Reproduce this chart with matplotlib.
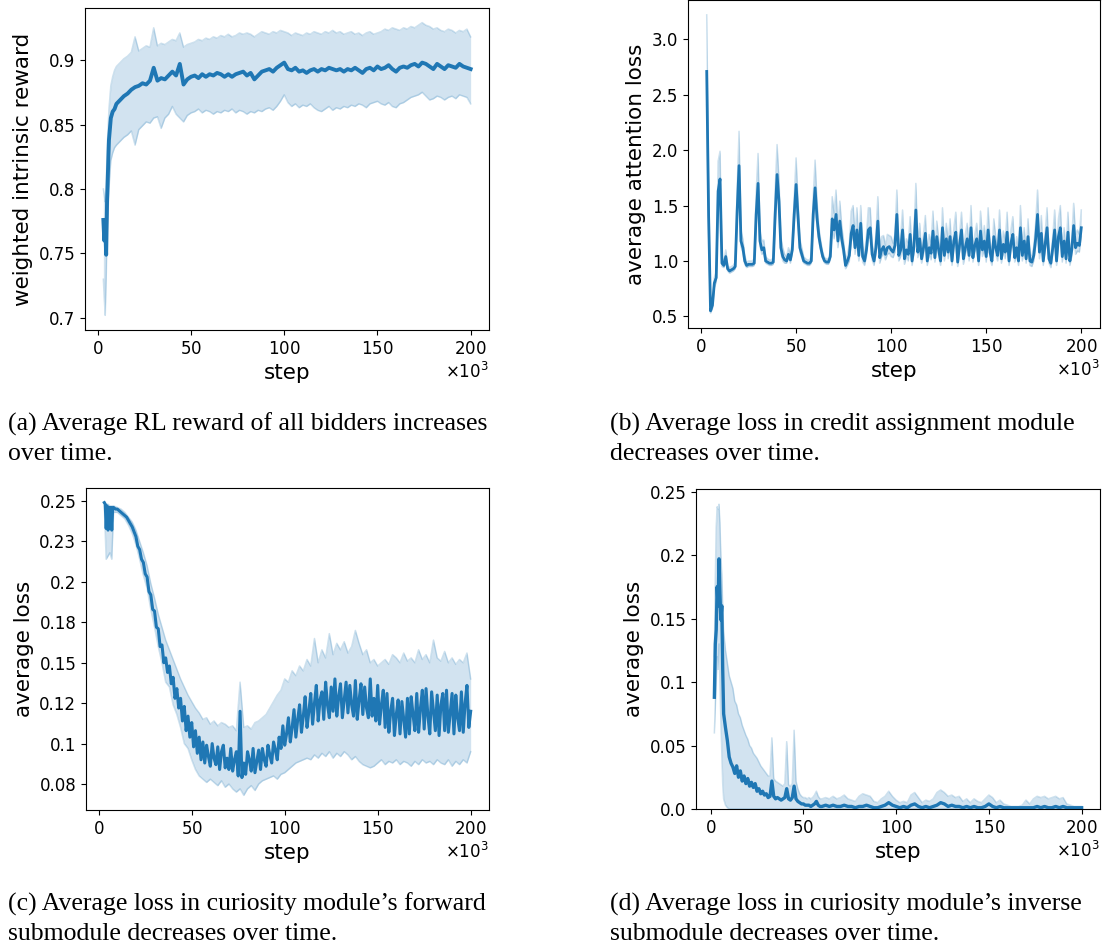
import matplotlib
matplotlib.use("Agg")
import matplotlib.pyplot as plt
import numpy as np

BLUE = "#1f77b4"

# ---------------------------------------------------------------- (a) reward
a_steps = [3, 3.5, 4, 4.5, 5, 6, 7, 8, 9, 10] + list(range(12, 201, 2))
a_mean = [
    .776, .760, .771, .749, .792, .838, .855, .860, .862, .866,
    .869, .872, .874, .877, .879, .880, .882, .881, .884, .894,
    .884, .886, .885, .888, .891, .888, .897, .881, .885, .887,
    .888, .886, .889, .887, .889, .888, .890, .889, .887, .889,
    .887, .889, .890, .891, .888, .890, .885, .888, .891, .892,
    .893, .891, .894, .896, .898, .893, .892, .894, .891, .892,
    .890, .892, .893, .891, .893, .892, .894, .893, .892, .893,
    .891, .893, .892, .894, .892, .890, .893, .894, .892, .895,
    .893, .894, .896, .893, .891, .894, .895, .894, .896, .897,
    .895, .898, .897, .895, .893, .897, .895, .893, .896, .895,
    .894, .897, .895, .894, .893,
]
a_upper = [
    .800, .795, .790, .800, .830, .862, .880, .887, .892, .895,
    .898, .901, .903, .906, .918, .907, .909, .911, .910, .925,
    .911, .913, .912, .914, .916, .915, .921, .910, .912, .913,
    .914, .916, .915, .917, .916, .918, .917, .919, .918, .920,
    .918, .919, .921, .920, .921, .920, .918, .920, .922, .921,
    .920, .922, .921, .923, .922, .921, .919, .921, .920, .919,
    .921, .920, .922, .921, .920, .922, .921, .923, .921, .922,
    .920, .921, .922, .920, .921, .919, .921, .922, .920, .921,
    .922, .924, .923, .925, .924, .923, .925, .924, .926, .925,
    .927, .929, .927, .926, .924, .925, .923, .922, .924, .923,
    .921, .923, .922, .924, .918,
]
a_lower = [
    .730, .715, .702, .730, .765, .800, .822, .828, .832, .834,
    .837, .840, .842, .845, .834, .846, .849, .852, .851, .855,
    .856, .847, .855, .858, .864, .858, .855, .852, .857, .859,
    .860, .862, .859, .861, .860, .858, .860, .859, .861, .860,
    .862, .859, .861, .860, .858, .860, .859, .861, .860, .862,
    .863, .861, .864, .868, .873, .867, .864, .866, .863, .865,
    .864, .866, .863, .861, .860, .862, .864, .861, .863, .862,
    .864, .863, .865, .864, .866, .865, .863, .866, .867, .868,
    .866, .865, .867, .864, .863, .866, .867, .869, .871, .872,
    .873, .875, .872, .869, .870, .872, .871, .869, .871, .872,
    .870, .873, .872, .871, .866,
]

# ------------------------------------------------------- (b) attention loss
b_steps = list(range(3, 201))
b_mean = [
    2.71, 1.40, 0.55, 0.60, 0.80, 0.85, 1.63, 1.74, 0.98, 0.96,
    1.04, 0.93, 0.91, 0.92, 0.93, 0.95, 1.45, 1.86, 1.18, 1.12,
    1.00, 0.96, 0.97, 0.97, 0.97, 0.98, 1.42, 1.70, 1.18, 1.10,
    1.12, 1.00, 0.99, 0.98, 0.98, 0.99, 1.42, 1.78, 1.54, 1.12,
    1.04, 1.01, 1.00, 1.06, 1.01, 1.10, 1.42, 1.69, 1.40, 1.12,
    1.06, 1.00, 0.99, 0.98, 0.98, 1.00, 1.42, 1.66, 1.39, 1.22,
    1.12, 1.04, 1.00, 0.99, 0.99, 1.04, 1.38, 1.28, 1.42, 1.18,
    1.36, 1.20, 1.10, 0.96, 1.00, 1.05, 1.25, 1.32, 1.12, 1.28,
    1.05, 1.34, 1.04, 1.00, 1.10, 1.28, 1.30, 1.06, 1.00, 1.12,
    1.36, 1.03, 1.10, 1.13, 1.06, 1.12, 1.13, 1.10, 1.08, 1.14,
    1.42, 1.05, 1.10, 1.28, 1.02, 1.10, 1.06, 1.24, 1.00, 1.13,
    1.46, 1.08, 1.20, 1.02, 1.12, 1.25, 1.00, 1.12, 1.07, 1.27,
    1.03, 1.22, 1.10, 1.00, 1.30, 1.05, 1.20, 1.08, 1.22, 1.00,
    1.18, 1.26, 0.99, 1.15, 1.28, 1.02, 1.12, 1.20, 1.05, 1.30,
    1.03, 1.14, 1.20, 1.00, 1.27, 1.10, 1.18, 1.04, 1.28, 1.08,
    1.00, 1.22, 1.12, 1.05, 1.28, 1.02, 1.15, 1.08, 1.26, 1.00,
    1.16, 1.24, 1.03, 1.12, 1.00, 1.30, 1.05, 1.18, 1.02, 1.22,
    1.00, 0.99, 1.05, 1.20, 1.42, 1.08, 1.25, 1.00, 1.15, 1.30,
    1.02, 0.98, 1.12, 1.28, 1.00, 1.22, 1.30, 1.04, 1.18, 1.02,
    1.26, 1.00, 1.10, 1.32, 1.12, 1.16, 1.14, 1.30,
]
# distance from the mean to the upper / lower edge of the confidence band
b_band_up = [
    .51, .30, .06, .05, .05, .05, .27, .25, .06, .04,
    .06, .03, .03, .03, .03, .04, .20, .31, .10, .08,
    .05, .03, .03, .03, .03, .04, .20, .27, .10, .08,
    .07, .04, .03, .03, .03, .04, .22, .27, .20, .10,
    .08, .05, .04, .06, .05, .06, .15, .24, .15, .08,
    .06, .04, .03, .03, .03, .04, .16, .25, .15, .08,
    .06, .04, .03, .03, .03, .05, .20, .15, .22, .12,
    .18, .12, .08, .05, .06, .10, .20, .18, .12, .20,
    .10, .16, .10, .06, .12, .20, .18, .10, .06, .12,
    .22, .08, .12, .10, .08, .12, .10, .12, .08, .10,
    .22, .08, .12, .18, .06, .10, .10, .16, .06, .12,
    .24, .08, .14, .06, .12, .16, .06, .12, .10, .18,
    .06, .14, .10, .06, .18, .08, .14, .10, .16, .06,
    .12, .18, .06, .10, .16, .08, .12, .14, .08, .20,
    .06, .10, .14, .06, .18, .10, .14, .08, .20, .10,
    .06, .16, .10, .08, .18, .06, .12, .10, .18, .06,
    .12, .16, .06, .10, .06, .20, .08, .12, .06, .16,
    .06, .06, .08, .14, .22, .10, .16, .06, .10, .18,
    .06, .06, .10, .18, .06, .16, .20, .08, .12, .06,
    .18, .06, .10, .20, .12, .12, .10, .16,
]
b_band_dn = [
    .30, .15, .02, .03, .04, .04, .15, .10, .03, .02,
    .03, .02, .02, .02, .02, .02, .10, .12, .05, .04,
    .03, .02, .02, .02, .02, .02, .10, .10, .05, .04,
    .04, .02, .02, .02, .02, .02, .10, .12, .10, .05,
    .04, .03, .02, .03, .03, .03, .08, .10, .08, .04,
    .03, .02, .02, .02, .02, .02, .08, .10, .08, .04,
    .03, .02, .02, .02, .02, .03, .10, .08, .10, .06,
    .08, .06, .05, .03, .04, .05, .08, .08, .06, .08,
    .05, .08, .05, .04, .06, .08, .08, .05, .04, .06,
    .08, .05, .06, .06, .05, .06, .06, .06, .05, .06,
    .08, .05, .06, .08, .05, .06, .06, .08, .04, .06,
    .08, .05, .07, .04, .06, .08, .04, .06, .06, .08,
    .04, .07, .06, .04, .08, .05, .07, .06, .08, .04,
    .06, .08, .04, .06, .08, .05, .06, .07, .05, .08,
    .04, .06, .07, .04, .08, .06, .07, .05, .08, .06,
    .04, .07, .06, .05, .08, .04, .06, .06, .08, .04,
    .06, .08, .04, .06, .04, .08, .05, .06, .04, .07,
    .04, .04, .05, .07, .08, .06, .08, .04, .06, .08,
    .04, .04, .06, .08, .04, .07, .08, .05, .06, .04,
    .08, .04, .06, .08, .06, .07, .06, .08,
]

# ------------------------------------------------- (c) forward-model loss
c_steps = [3, 3.5, 4, 4.5, 5, 5.5, 6, 6.5, 7, 7.5] + list(range(8, 201))
c_mean = [
    .249, .248, .233, .247, .232, .246, .233, .246, .232, .246,
    .246, .245, .245, .244, .243, .242, .241, .240, .238, .236,
    .234, .231, .228, .222, .220, .214, .212, .205, .203, .194,
    .192, .183, .182, .172, .171, .160, .161, .150, .153, .144,
    .148, .137, .141, .128, .134, .122, .128, .114, .123, .108,
    .117, .104, .113, .098, .108, .094, .104, .090, .101, .088,
    .099, .092, .086, .100, .091, .087, .098, .084, .095, .099,
    .085, .091, .084, .097, .083, .090, .095, .080, .120, .079,
    .088, .081, .095, .090, .083, .097, .082, .089, .096, .084,
    .097, .090, .086, .099, .093, .088, .101, .096, .090, .104,
    .097, .111, .099, .106, .116, .101, .110, .121, .104, .115,
    .124, .107, .117, .129, .110, .120, .131, .112, .125, .136,
    .114, .127, .132, .115, .138, .124, .116, .135, .120, .140,
    .117, .129, .137, .116, .127, .138, .119, .136, .124, .117,
    .139, .115, .127, .137, .118, .135, .122, .116, .140, .117,
    .128, .114, .136, .112, .124, .133, .110, .131, .107, .120,
    .128, .105, .118, .127, .106, .126, .115, .104, .128, .106,
    .129, .118, .108, .131, .107, .122, .133, .109, .134, .117,
    .106, .132, .120, .108, .130, .105, .124, .131, .108, .133,
    .107, .119, .131, .106, .130, .116, .108, .132, .107, .125,
    .136, .110, .120,
]
c_band_steps = [3, 4, 5, 6, 7] + list(range(8, 201, 2))
c_lower = [
    .247, .214, .216, .218, .214,
    .243, .243, .241, .239, .235, .230, .223, .214, .204, .196,
    .183, .172, .160, .150, .138, .135, .124, .118, .110, .100,
    .097, .090, .084, .080, .078, .076, .078, .076, .074, .077,
    .073, .075, .072, .070, .072, .068, .072, .074, .071, .075,
    .077, .078, .079, .080, .078, .081, .082, .084, .086, .088,
    .089, .090, .091, .090, .093, .091, .094, .092, .095, .091,
    .094, .092, .095, .093, .090, .092, .089, .087, .086, .085,
    .086, .088, .090, .087, .089, .088, .090, .087, .089, .088,
    .086, .089, .087, .090, .088, .089, .087, .090, .088, .087,
    .090, .086, .089, .087, .090, .088, .095,
]
c_upper = [
    .249, .248, .248, .247, .247,
    .247, .246, .245, .243, .240, .237, .232, .225, .218, .210,
    .199, .190, .180, .172, .164, .158, .152, .146, .140, .135,
    .130, .126, .122, .119, .115, .116, .112, .114, .111, .113,
    .112, .110, .111, .108, .138, .110, .111, .109, .113, .114,
    .116, .118, .122, .126, .130, .133, .140, .138, .145, .142,
    .148, .145, .152, .148, .165, .150, .158, .153, .168, .155,
    .162, .158, .163, .156, .160, .170, .162, .155, .158, .150,
    .152, .148, .150, .152, .149, .155, .153, .150, .156, .151,
    .153, .150, .158, .152, .155, .150, .164, .153, .151, .157,
    .150, .153, .149, .152, .150, .156, .140,
]

# ------------------------------------------------- (d) inverse-model loss
d_steps = ([2, 2.5, 3, 3.5, 4, 4.5, 5, 5.5, 6, 6.5]
           + list(range(7, 61)) + list(range(62, 201, 2)))
d_mean = [
    .088, .130, .141, .175, .160, .197, .170, .149, .160, .110,
    .075, .064, .054, .041, .036, .033, .028, .034, .025, .030,
    .022, .026, .020, .024, .018, .021, .017, .020, .014, .016,
    .012, .014, .011, .012, .009, .010, .022, .010, .008, .009,
    .008, .007, .008, .009, .016, .008, .007, .009, .018, .008,
    .006, .005, .004, .004, .003, .003, .003, .002, .003, .004,
    .006, .003, .002, .002,
    .003, .002, .003, .002, .002, .003, .002, .002, .001, .002,
    .002, .003, .002, .001, .001, .002, .003, .005, .003, .002,
    .001, .002, .001, .003, .004, .002, .001, .002, .001, .002,
    .003, .005, .004, .002, .003, .002, .002, .001, .002, .001,
    .002, .001, .001, .002, .004, .002, .001, .002, .001, .001,
    .001, .001, .001, .001, .001, .001, .001, .002, .001, .002,
    .001, .001, .002, .001, .002, .001, .001, .001, .001, .001,
]
d_upper = [
    .120, .180, .222, .238, .236, .240, .225, .200, .185, .160,
    .140, .125, .115, .105, .100, .095, .085, .082, .075, .072,
    .066, .062, .058, .055, .050, .048, .044, .042, .040, .037,
    .034, .032, .030, .028, .026, .026, .056, .024, .022, .021,
    .020, .019, .018, .020, .053, .019, .018, .020, .062, .022,
    .016, .012, .010, .009, .009, .008, .009, .008, .009, .011,
    .014, .010, .008, .008,
    .009, .008, .010, .008, .009, .011, .008, .007, .006, .010,
    .012, .011, .010, .006, .005, .008, .010, .014, .010, .007,
    .005, .006, .005, .011, .013, .009, .005, .007, .006, .008,
    .013, .015, .013, .010, .011, .009, .010, .006, .008, .005,
    .008, .006, .005, .008, .011, .009, .005, .007, .004, .003,
    .002, .002, .002, .003, .007, .004, .008, .010, .009, .010,
    .008, .009, .010, .008, .009, .004, .003, .002, .002, .002,
]
d_lower = [
    .060, .080, .100, .120, .110, .130, .100, .070, .045, .020,
    .008, .003, .001, 0, 0, 0, 0, 0, 0, 0,
    0, 0, 0, 0, 0, 0, 0, 0, 0, 0,
    0, 0, 0, 0, 0, 0, 0, 0, 0, 0,
    0, 0, 0, 0, 0, 0, 0, 0, 0, 0,
    0, 0, 0, 0, 0, 0, 0, 0, 0, 0,
    0, 0, 0, 0,
    0, 0, 0, 0, 0, 0, 0, 0, 0, 0,
    0, 0, 0, 0, 0, 0, 0, 0, 0, 0,
    0, 0, 0, 0, 0, 0, 0, 0, 0, 0,
    0, 0, 0, 0, 0, 0, 0, 0, 0, 0,
    0, 0, 0, 0, 0, 0, 0, 0, 0, 0,
    0, 0, 0, 0, 0, 0, 0, 0, 0, 0,
    0, 0, 0, 0, 0, 0, 0, 0, 0, 0,
]

captions = [
    ("(a) Average RL reward of all bidders increases", "over time."),
    ("(b) Average loss in credit assignment module", "decreases over time."),
    ("(c) Average loss in curiosity module\u2019s forward", "submodule decreases over time."),
    ("(d) Average loss in curiosity module\u2019s inverse", "submodule decreases over time."),
]

W, H = 1104, 951
fig = plt.figure(figsize=(W / 100, H / 100), dpi=100)


def px_axes(left, top, right, bottom):
    return fig.add_axes([left / W, 1 - bottom / H, (right - left) / W, (bottom - top) / H])


def draw(ax, steps, mean, band_steps, lower, upper, ylabel, lw=2.0):
    xs = np.asarray(steps, dtype=float) * 1000
    bx = np.asarray(band_steps, dtype=float) * 1000
    ax.fill_between(bx, lower, upper, color=BLUE, alpha=0.2, lw=0)
    ax.plot(bx, lower, color=BLUE, alpha=0.22, lw=1.1)
    ax.plot(bx, upper, color=BLUE, alpha=0.22, lw=1.1)
    ax.plot(xs, mean, color=BLUE, lw=lw)
    ax.set_xlabel("step", fontsize=15.5)
    ax.set_ylabel(ylabel, fontsize=15.5)
    ax.tick_params(labelsize=12)
    ax.ticklabel_format(axis="x", style="sci", scilimits=(3, 3), useMathText=True)
    ax.xaxis.get_offset_text().set_fontsize(12)


ax_a = px_axes(85, 8, 489, 330)
draw(ax_a, a_steps, a_mean, a_steps, a_lower, a_upper, "weighted intrinsic reward", lw=2.8)
ax_a.set_yticks([0.7, 0.75, 0.8, 0.85, 0.9], ["0.7", "0.75", "0.8", "0.85", "0.9"])

ax_b = px_axes(688, 0, 1100, 328)
b_m = np.asarray(b_mean)
draw(ax_b, b_steps, b_m, b_steps, b_m - np.asarray(b_band_dn), b_m + np.asarray(b_band_up),
     "average attention loss")

ax_c = px_axes(86, 488, 489, 810)
draw(ax_c, c_steps, c_mean, c_band_steps, c_lower, c_upper, "average loss", lw=2.2)
ax_c.set_yticks([0.075, 0.1, 0.125, 0.15, 0.175, 0.2, 0.225, 0.25],
                ["0.08", "0.1", "0.12", "0.15", "0.18", "0.2", "0.23", "0.25"])

ax_d = px_axes(696, 489, 1100, 809)
draw(ax_d, d_steps, d_mean, d_steps, d_lower, d_upper, "average loss", lw=2.4)
ax_d.set_ylim(bottom=0)
ax_d.set_yticks([0, 0.05, 0.1, 0.15, 0.2, 0.25], ["0.0", "0.05", "0.1", "0.15", "0.2", "0.25"])

cap_pos = [(8, 431), (610, 431), (8, 911), (610, 911)]
for (l1, l2), (cx, cy) in zip(captions, cap_pos):
    fig.text(cx / W, 1 - cy / H, l1, family="Liberation Serif", fontsize=18.5, va="baseline")
    fig.text(cx / W, 1 - (cy + 29) / H, l2, family="Liberation Serif", fontsize=18.5, va="baseline")

fig.savefig("out.png", dpi=100)
